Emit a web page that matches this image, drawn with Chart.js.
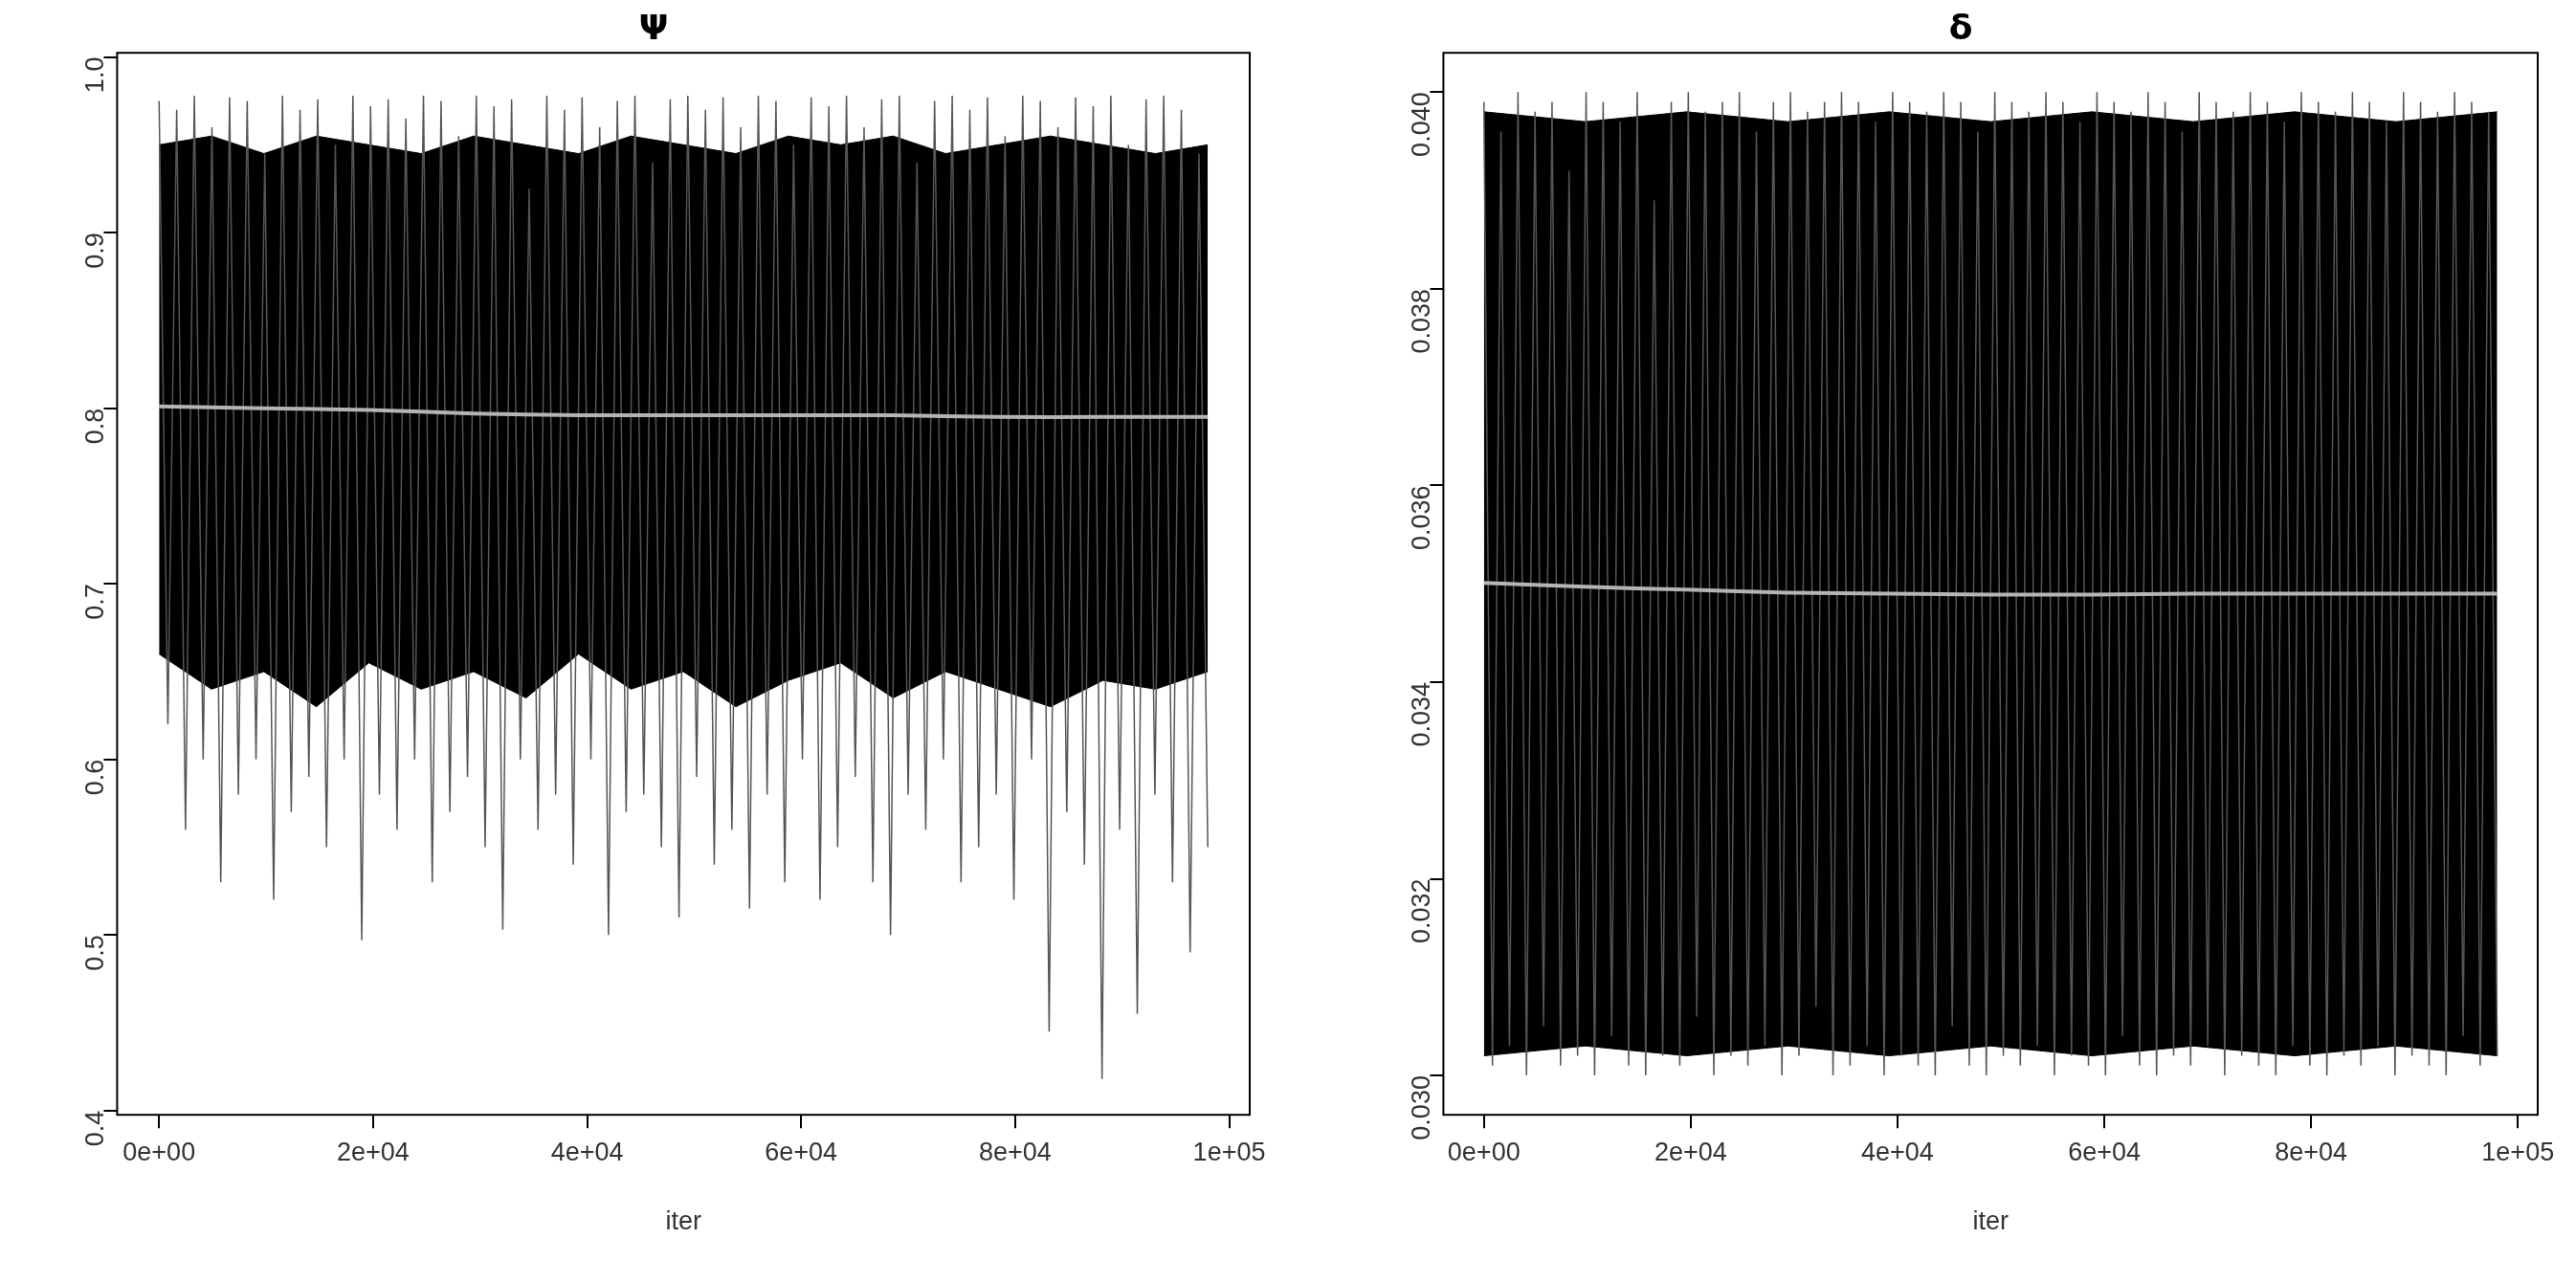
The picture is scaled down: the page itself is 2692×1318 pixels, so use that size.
<!DOCTYPE html>
<html><head><meta charset="utf-8">
<script src="https://cdn.jsdelivr.net/npm/chart.js@4/dist/chart.umd.min.js"></script>
<style>
body{margin:0;background:#fff;width:2692px;height:1318px;overflow:hidden}
.w{position:absolute;top:0;height:1318px}
</style></head><body>
<div class="w" style="left:0;width:1346px"><canvas id="c1"></canvas></div>
<div class="w" style="left:1346px;width:1346px"><canvas id="c2"></canvas></div>
<script>
const titles = ["Ψ", "δ"];
const xTicks = [0, 20000, 40000, 60000, 80000, 100000];
const xTickLabels = ["0e+00","2e+04","4e+04","6e+04","8e+04","1e+05"];
const psiTicks = [0.4,0.5,0.6,0.7,0.8,0.9,1.0];
const psiTickLabels = ["0.4","0.5","0.6","0.7","0.8","0.9","1.0"];
const deltaTicks = [0.030,0.032,0.034,0.036,0.038,0.040];
const deltaTickLabels = ["0.030","0.032","0.034","0.036","0.038","0.040"];
const lastIter = 98000;
// trace tips (high / low)
const psiHigh = [0.975,0.97,0.978,0.96,0.977,0.975,0.945,0.978,0.97,0.976,0.95,0.978,0.972,0.976,0.965,0.978,0.975,0.955,0.978,0.972,0.976,0.925,0.978,0.97,0.977,0.96,0.975,0.978,0.94,0.976,0.978,0.97,0.977,0.96,0.978,0.975,0.95,0.977,0.972,0.978,0.96,0.976,0.978,0.94,0.975,0.978,0.97,0.977,0.955,0.978,0.975,0.96,0.977,0.972,0.978,0.95,0.976,0.978,0.97,0.945];
const psiLow  = [0.62,0.56,0.6,0.53,0.58,0.6,0.52,0.57,0.59,0.55,0.6,0.497,0.58,0.56,0.6,0.53,0.57,0.59,0.55,0.503,0.6,0.56,0.58,0.54,0.6,0.5,0.57,0.58,0.55,0.51,0.59,0.54,0.56,0.515,0.58,0.53,0.6,0.52,0.55,0.59,0.53,0.5,0.58,0.56,0.6,0.53,0.55,0.58,0.52,0.6,0.445,0.57,0.54,0.418,0.56,0.455,0.58,0.53,0.49,0.55];
const psiBandTop = [0.95,0.955,0.945,0.955,0.95,0.945,0.955,0.95,0.945,0.955,0.95,0.945,0.955,0.95,0.955,0.945,0.95,0.955,0.95,0.945,0.95];
const psiBandBottom = [0.66,0.64,0.65,0.63,0.655,0.64,0.65,0.635,0.66,0.64,0.65,0.63,0.645,0.655,0.635,0.65,0.64,0.63,0.645,0.64,0.65];
const psiMean = [0.801,0.8,0.799,0.797,0.796,0.796,0.796,0.796,0.795,0.795,0.795];
const deltaHigh = [0.0399,0.0396,0.04,0.0398,0.0399,0.0392,0.04,0.0399,0.0397,0.04,0.0389,0.0399,0.04,0.0398,0.0399,0.04,0.0396,0.0399,0.04,0.0398,0.0399,0.04,0.0399,0.0397,0.04,0.0399,0.0398,0.04,0.0399,0.0396,0.04,0.0399,0.0398,0.04,0.0399,0.0397,0.04,0.0399,0.0398,0.04,0.0399,0.0396,0.04,0.0399,0.0398,0.04,0.0399,0.0397,0.04,0.0399,0.0398,0.04,0.0399,0.0397,0.04,0.0399,0.0398,0.04,0.0399,0.0398];
const deltaLow  = [0.0301,0.0303,0.0300,0.0305,0.0301,0.0302,0.0300,0.0304,0.0301,0.0300,0.0302,0.0301,0.0306,0.0300,0.0302,0.0301,0.0303,0.0300,0.0302,0.0307,0.0300,0.0301,0.0303,0.0300,0.0302,0.0301,0.0300,0.0305,0.0301,0.0300,0.0302,0.0301,0.0303,0.0300,0.0302,0.0301,0.0300,0.0304,0.0301,0.0300,0.0302,0.0301,0.0303,0.0300,0.0302,0.0301,0.0300,0.0303,0.0301,0.0300,0.0302,0.0301,0.0303,0.0300,0.0302,0.0301,0.0300,0.0304,0.0301,0.0302];
const deltaBandTop = [0.0398,0.0397,0.0398,0.0397,0.0398,0.0397,0.0398,0.0397,0.0398,0.0397,0.0398];
const deltaBandBottom = [0.0302,0.0303,0.0302,0.0303,0.0302,0.0303,0.0302,0.0303,0.0302,0.0303,0.0302];
const deltaMean = [0.03501,0.03497,0.03494,0.03491,0.03490,0.03489,0.03489,0.03490,0.03490,0.03490,0.03490];

const FONT = "'Liberation Sans', Arial, sans-serif";
function spread(arr){ return arr.map((v,i)=>({x: i*lastIter/(arr.length-1), y: v})); }
function zig(hi, lo){
  const pts=[]; const n=hi.length*2;
  for(let i=0;i<hi.length;i++){ pts.push(hi[i]); pts.push(lo[i]); }
  return pts.map((v,i)=>({x: i*lastIter/(n-1), y: v}));
}
const boxPlugin = {id:'box', afterDraw(c){const a=c.chartArea,x=c.ctx;x.save();x.strokeStyle='#000';x.lineWidth=2;x.strokeRect(a.left,a.top,a.right-a.left,a.bottom-a.top);x.restore();}};

function make(id, title, hi, lo, bt, bb, mean, yt, ytl, ymin, ymax, padL){
  const ctx=document.getElementById(id);
  new Chart(ctx,{type:'line',
    data:{datasets:[
      {data:spread(mean),borderColor:'#b4b4b4',borderWidth:4,pointRadius:0,fill:false,tension:0.3,order:0},
      {data:zig(hi,lo),borderColor:'#555',borderWidth:1.5,pointRadius:0,fill:false,tension:0,order:1},
      {data:spread(bt),borderColor:'#000',backgroundColor:'#000',borderWidth:1,pointRadius:0,fill:'+1',tension:0,order:2},
      {data:spread(bb),borderColor:'#000',borderWidth:1,pointRadius:0,fill:false,tension:0,order:3}
    ]},
    options:{responsive:true,maintainAspectRatio:false,animation:false,events:[],
      layout:{padding:{left:padL,right:40,top:10,bottom:20}},
      plugins:{legend:{display:false},tooltip:{enabled:false},
        title:{display:true,text:title,font:{family:'DejaVu Sans',size:36,weight:'bold'},color:'#000',padding:{top:0,bottom:2}}},
      scales:{
        x:{type:'linear',min:-3920,max:101920,
          afterBuildTicks:s=>{s.ticks=xTicks.map(v=>({value:v}));},
          ticks:{callback:(v)=>xTickLabels[xTicks.indexOf(v)]??'',font:{family:FONT,size:27},color:'#333',padding:10,maxRotation:0},
          grid:{drawOnChartArea:false,tickLength:14,color:'#000',lineWidth:2},border:{display:false},
          title:{display:true,text:'iter',font:{family:FONT,size:27},color:'#333',padding:{top:30}}},
        y:{min:ymin,max:ymax,
          afterBuildTicks:s=>{s.ticks=yt.map(v=>({value:v}));},
          ticks:{callback:(v)=>{const i=yt.findIndex(t=>Math.abs(t-v)<1e-9);return i>=0?ytl[i]:'';},font:{family:FONT,size:27},color:'#333',padding:8,minRotation:90,maxRotation:90},
          grid:{drawOnChartArea:false,tickLength:14,color:'#000',lineWidth:2},border:{display:false}}
      }},
    plugins:[boxPlugin]});
}
make('c1',titles[0],psiHigh,psiLow,psiBandTop,psiBandBottom,psiMean,psiTicks,psiTickLabels,0.3976,1.0024,60);
make('c2',titles[1],deltaHigh,deltaLow,deltaBandTop,deltaBandBottom,deltaMean,deltaTicks,deltaTickLabels,0.0296,0.0404,100);
</script></body></html>
